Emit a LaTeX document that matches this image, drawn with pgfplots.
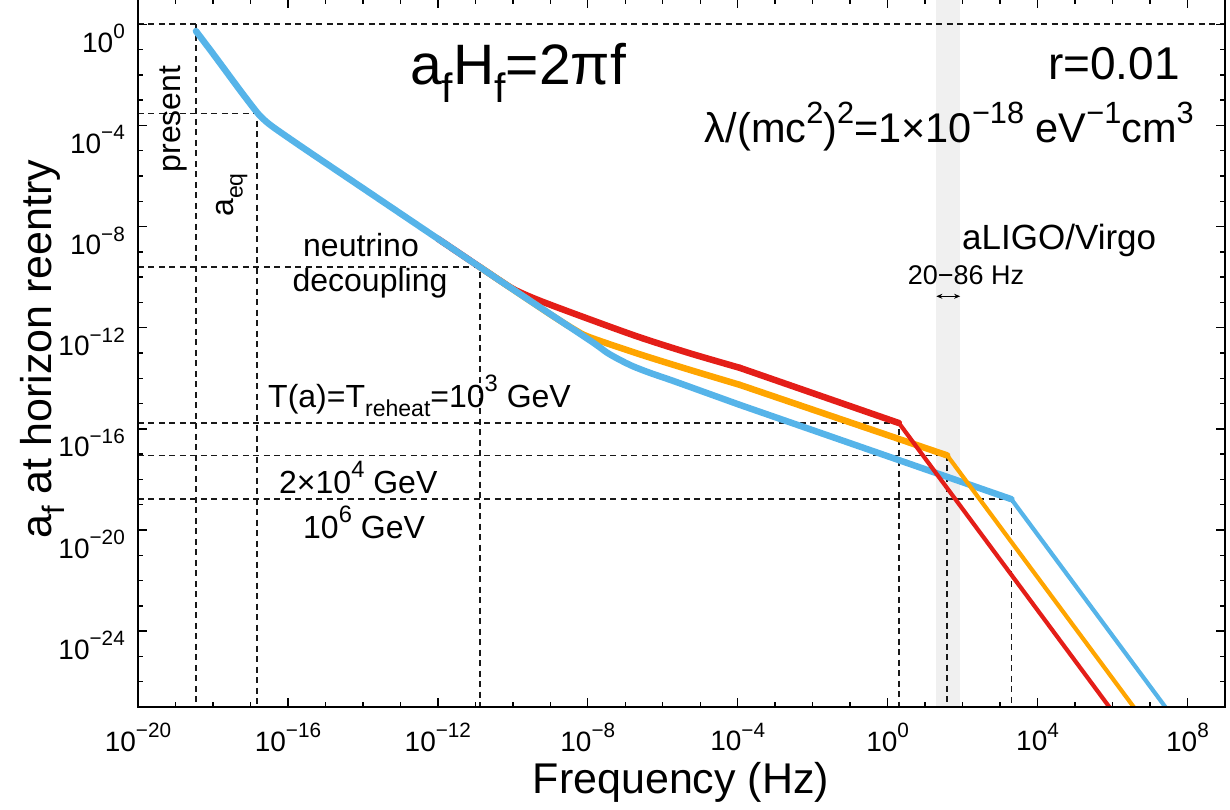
\documentclass[border=0pt]{standalone}
\usepackage{fontspec}
\setmainfont{Liberation Sans}
\usepackage{pgfplots}
\pgfplotsset{compat=1.18}
\usetikzlibrary{arrows.meta}

\definecolor{cred}{RGB}{228,30,24}
\definecolor{corange}{RGB}{255,165,0}
\definecolor{cblue}{RGB}{86,180,233}
\definecolor{band}{RGB}{240,240,240}

\tikzset{
  dl/.style={draw=black!90, line width=1.6pt, dash pattern=on 6pt off 4.5pt},
  thickcurve/.style={line width=6.5pt, line cap=round, line join=round},
  thincurve/.style={line width=4.2pt, line cap=round, line join=round},
}

\makeatletter
\newlength\tmpsz
\newcommand{\sups}[1]{\begingroup\tmpsz=\f@size pt\relax\tmpsz=0.74\tmpsz\raisebox{0.48em}{\fontsize{\tmpsz}{\tmpsz}\selectfont #1}\endgroup}
\newcommand{\subs}[1]{\begingroup\tmpsz=\f@size pt\relax\tmpsz=0.72\tmpsz\raisebox{-0.3em}{\fontsize{\tmpsz}{\tmpsz}\selectfont #1}\endgroup}
\makeatother
\newcommand{\fs}[1]{\fontsize{#1}{#1}\selectfont}

\begin{document}
\begin{tikzpicture}
\begin{axis}[
  name=ax,
  scale only axis,
  width=1087pt, height=708pt,
  xmode=log, ymode=log,
  xmin=1e-20, xmax=1e9, ymin=1e-27, ymax=1e1,
  axis on top,
  axis line style={line width=2pt},
  tick style={black, line width=1.4pt},
  major tick length=9pt, minor tick length=5pt,
  tick align=inside,
  xtick={1e-20,1e-16,1e-12,1e-8,1e-4,1,1e4,1e8},
  xticklabels={10\sups{−20},10\sups{−16},10\sups{−12},10\sups{−8},10\sups{−4},10\sups{0},10\sups{4},10\sups{8}},
  minor xtick={1e-19,1e-18,1e-17,1e-15,1e-14,1e-13,1e-11,1e-10,1e-9,1e-7,1e-6,1e-5,1e-3,1e-2,1e-1,1e1,1e2,1e3,1e5,1e6,1e7},
  ytick={1e-24,1e-20,1e-16,1e-12,1e-8,1e-4,1},
  yticklabels={10\sups{−24},10\sups{−20},10\sups{−16},10\sups{−12},10\sups{−8},10\sups{−4},10\sups{0}},
  minor ytick={1e-26,1e-25,1e-23,1e-22,1e-21,1e-19,1e-18,1e-17,1e-15,1e-14,1e-13,1e-11,1e-10,1e-9,1e-7,1e-6,1e-5,1e-3,1e-2,1e-1},
  xticklabel style={font=\fs{28}, anchor=north, inner sep=0pt, yshift=-16pt},
  yticklabel style={font=\fs{28}, anchor=north east, inner sep=0pt, xshift=-13pt},
]
% aLIGO/Virgo band 20-86 Hz
\addplot[fill=band, draw=none] coordinates {(20,1e-27) (86,1e-27) (86,10) (20,10)} -- cycle;

% dashed guide lines
\addplot[dl] coordinates {(1e-20,1) (1e9,1)};
\addplot[dl] coordinates {(3.52e-19,1) (3.52e-19,1e-27)};
\addplot[dl] coordinates {(1e-20,2.95e-4) (1.48e-17,2.95e-4) (1.48e-17,1e-27)};
\addplot[dl] coordinates {(1e-20,2.51e-10) (1.32e-11,2.51e-10) (1.32e-11,1e-27)};
\addplot[dl] coordinates {(1e-20,1.70e-16) (2.0,1.70e-16) (2.0,1e-27)};
\addplot[dl] coordinates {(1e-20,8.91e-18) (38.9,8.91e-18) (38.9,1e-27)};
\addplot[dl] coordinates {(1e-20,1.66e-19) (2.0e3,1.66e-19) (2.0e3,1e-27)};

% red (T_reheat = 1e3 GeV)
\addplot[cred, thickcurve, smooth] coordinates {(1e-12,3.31e-9) (1.32e-11,2.51e-10) (4.50e-11,7.41e-11) (1.13e-10,3.16e-11) (5.25e-10,1.17e-11) (1.13e-8,2.14e-12) (2.44e-7,4.17e-13) (5.25e-6,9.77e-14) (1.13e-4,2.60e-14)};
\addplot[cred, thickcurve] coordinates {(1.13e-4,2.60e-14) (2.0,1.70e-16)};
% orange (2e4 GeV)
\addplot[corange, thickcurve, smooth] coordinates {(1.32e-11,2.51e-10) (1e-10,3.31e-11) (5.25e-10,6.38e-12) (1.46e-9,2.36e-12) (4.50e-9,8.32e-13) (1.13e-8,4.19e-13) (2.44e-7,8.91e-14) (5.25e-6,2.16e-14) (1.13e-4,5.52e-15)};
\addplot[corange, thickcurve] coordinates {(1.13e-4,5.52e-15) (38.9,8.91e-18)};
% blue (1e6 GeV)
\addplot[cblue, thickcurve, smooth] coordinates {(3.52e-19,0.538) (1e-18,6.93e-2) (5.25e-18,2.49e-3) (1.46e-17,3.44e-4) (2.15e-17,1.85e-4) (3.31e-17,1.07e-4) (6.12e-17,5.57e-5) (3.15e-16,1.05e-5) (1e-14,3.31e-7) (1e-12,3.31e-9) (1e-10,3.31e-11) (1.13e-8,3.18e-13) (3.15e-8,1.07e-13) (7.13e-8,5.38e-14) (1.61e-7,2.98e-14) (4.50e-7,1.65e-14) (1.88e-6,7.94e-15) (1.46e-5,2.66e-15) (1.13e-4,8.91e-16)};
\addplot[cblue, thickcurve] coordinates {(1.13e-4,8.91e-16) (2.0e3,1.66e-19)};

% steep parts after reheating
\addplot[cblue, thincurve] coordinates {(2.0e3,1.66e-19) (3.16e7,6.6e-28)};
\addplot[corange, thincurve] coordinates {(38.9,8.91e-18) (1e7,1.35e-28)};
\addplot[cred, thincurve] coordinates {(2.0,1.70e-16) (3.16e6,6.76e-29)};

% band arrow
\draw[{Stealth[length=6pt,width=5pt]}-{Stealth[length=6pt,width=5pt]}, line width=1.3pt] (axis cs:20,1.75e-11) -- (axis cs:86,1.75e-11);
\end{axis}

\coordinate (O) at ([xshift=-138pt, yshift=-1pt]ax.north west);
\begin{scope}[shift={(O)}, x=1pt, y=-1pt]
  \node[anchor=base west, inner sep=0pt] at (410,85) {\fs{57}a\subs{f}H\subs{f}=2πf};
  \node[anchor=base east, inner sep=0pt] at (1180,80) {\fs{46}r=0.01};
  \node[anchor=base east, inner sep=0pt] at (1194,143) {\fs{41.5}λ/(mc\sups{2})\sups{2}=1×10\sups{−18} eV\sups{−1}cm\sups{3}};
  \node[anchor=base west, inner sep=0pt] at (962,250) {\fs{35}aLIGO/Virgo};
  \node[anchor=base, inner sep=0pt] at (966,285) {\fs{27}20−86 Hz};
  \node[anchor=base, inner sep=0pt] at (361,257) {\fs{32}neutrino};
  \node[anchor=base, inner sep=0pt] at (370,292) {\fs{32}decoupling};
  \node[anchor=base west, inner sep=0pt] at (268,407) {\fs{32}T(a)=T\subs{reheat}=10\sups{3} GeV};
  \node[anchor=base west, inner sep=0pt] at (279,493) {\fs{32}2×10\sups{4} GeV};
  \node[anchor=base west, inner sep=0pt] at (303,538) {\fs{32}10\sups{6} GeV};
  \node[rotate=90, anchor=base, inner sep=0pt] at (180,119) {\fs{32}present};
  \node[rotate=90, anchor=base, inner sep=0pt] at (233,195) {\fs{32}a\subs{eq}};
  \node[rotate=90, anchor=base, inner sep=0pt] at (52,349) {\fs{43}a\subs{f} at horizon reentry};
  \node[anchor=base, inner sep=0pt] at (681,793) {\fs{43}Frequency (Hz)};
\end{scope}
\pgfresetboundingbox
\path (O) rectangle ++(1230pt,-809pt);
\end{tikzpicture}
\end{document}
